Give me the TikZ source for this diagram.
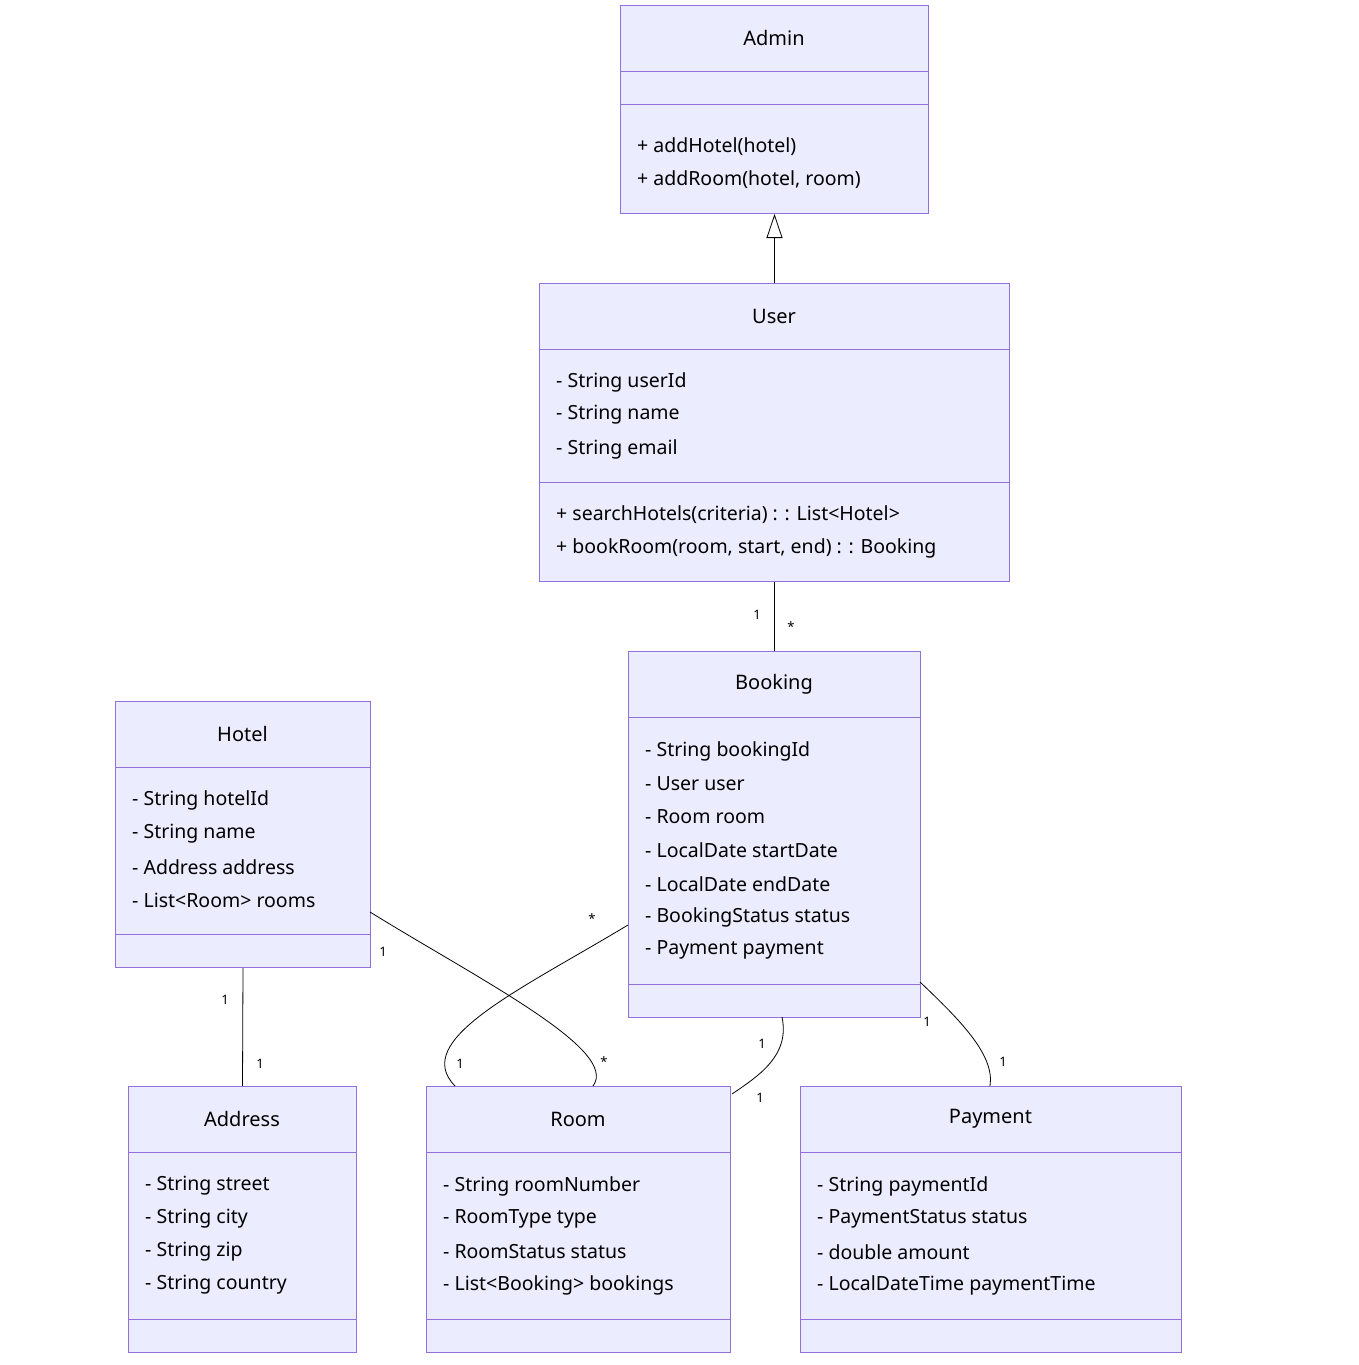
\documentclass[tikz,border=0pt]{standalone}
\usepackage{fontspec}
\setmainfont{Noto Sans}
\usetikzlibrary{arrows.meta}
\definecolor{cfill}{HTML}{ECECFF}
\definecolor{cline}{HTML}{9370DB}
\tikzset{
  box/.style={draw=cline,fill=cfill,line width=1pt,inner sep=0,anchor=north west},
  ttl/.style={font=\fontsize{20}{24}\selectfont\bfseries,inner sep=0},
  txt/.style={font=\fontsize{19.5}{24}\selectfont,anchor=west,inner sep=0},
  lbl/.style={font=\fontsize{13}{15}\selectfont,inner sep=0},
  rel/.style={draw=black,line width=0.8pt},
}
\newcommand{\umlbox}[8]{% name,x1,y1,x2,y2,d1,d2,title
  \node[box,minimum width=#4pt-#2pt,minimum height=#5pt-#3pt] (#1) at (#2,-#3) {};
  \draw[cline,line width=1pt] (#2,-#6)--(#4,-#6) (#2,-#7)--(#4,-#7);
  \node[ttl] (#1-t) at ({(#2+#4)/2},{-(#3+33)}) {#8};
}
\begin{document}
\begin{tikzpicture}[x=1pt,y=1pt]
\useasboundingbox[fill=white] (0,0) rectangle (1358,-1365);
\umlbox{admin}{620}{5}{928}{213}{71}{104}{Admin}
\node[txt] (a1) at (637,-147) {+ addHotel(hotel)};
\node[txt] (a2) at (637,-180) {+ addRoom(hotel, room)};
\umlbox{user}{539}{283}{1009}{581}{349}{482}{User}
\node[txt] (u1) at (556,-382) {- String userId};
\node[txt] (u2) at (556,-415) {- String name};
\node[txt] (u3) at (556,-449) {- String email};
\node[txt] (u4) at (556,-515) {+ searchHotels(criteria) : : List<Hotel>};
\node[txt] (u5) at (556,-548) {+ bookRoom(room, start, end) : : Booking};
\umlbox{booking}{628}{651}{920}{1017}{717}{984}{Booking}
\node[txt] (b1) at (645,-751) {- String bookingId};
\node[txt] (b2) at (645,-784) {- User user};
\node[txt] (b3) at (645,-817) {- Room room};
\node[txt] (b4) at (645,-850) {- LocalDate startDate};
\node[txt] (b5) at (645,-884) {- LocalDate endDate};
\node[txt] (b6) at (645,-917) {- BookingStatus status};
\node[txt] (b7) at (645,-950) {- Payment payment};
\umlbox{hotel}{115}{701}{370}{967}{767}{934}{Hotel}
\node[txt] (h1) at (132,-800) {- String hotelId};
\node[txt] (h2) at (132,-834) {- String name};
\node[txt] (h3) at (132,-867) {- Address address};
\node[txt] (h4) at (132,-900) {- List<Room> rooms};
\umlbox{address}{128}{1086}{356}{1352}{1152}{1319}{Address}
\node[txt] (ad1) at (145,-1186) {- String street};
\node[txt] (ad2) at (145,-1219) {- String city};
\node[txt] (ad3) at (145,-1252) {- String zip};
\node[txt] (ad4) at (145,-1285) {- String country};
\umlbox{room}{426}{1086}{730}{1352}{1152}{1319}{Room}
\node[txt] (r1) at (443,-1186) {- String roomNumber};
\node[txt] (r2) at (443,-1219) {- RoomType type};
\node[txt] (r3) at (443,-1252) {- RoomStatus status};
\node[txt] (r4) at (443,-1285) {- List<Booking> bookings};
\umlbox{payment}{800}{1086}{1181}{1352}{1152}{1319}{Payment}
\node[txt] (p1) at (817,-1186) {- String paymentId};
\node[txt] (p2) at (817,-1219) {- PaymentStatus status};
\node[txt] (p3) at (817,-1252) {- double amount};
\node[txt] (p4) at (817,-1285) {- LocalDateTime paymentTime};
% relations
\draw[rel,-{Triangle[open,width=16pt,length=24pt]}] (user.north) -- (admin.south);
\draw[rel] (user.south) -- (booking.north);
\node[lbl] (l1) at (757,-615) {1};
\node[lbl] (l2) at (791,-627) {*};
\draw[rel] (hotel.south) -- (address.north);
\node[lbl] (l3) at (225,-1000) {1};
\node[lbl] (l4) at (260,-1064) {1};
\coordinate (hr1) at (370,-912);
\coordinate (hr2) at (593,-1086);
\draw[rel] (hr1) .. controls (480,-980) and (620,-1050) .. (hr2);
\node[lbl] (l5) at (383,-952) {1};
\node[lbl] (l6) at (604,-1062) {*};
\coordinate (br1) at (628,-925);
\coordinate (br2) at (455,-1086);
\draw[rel] (br1) .. controls (520,-990) and (410,-1040) .. (br2);
\node[lbl] (l7) at (592,-919) {*};
\node[lbl] (l8) at (460,-1064) {1};
\coordinate (bb1) at (782,-1017);
\coordinate (bb2) at (732,-1094);
\draw[rel] (bb1) .. controls (790,-1055) and (760,-1075) .. (bb2);
\node[lbl] (l9) at (762,-1044) {1};
\node[lbl] (l10) at (760,-1098) {1};
\coordinate (bp1) at (920,-982);
\coordinate (bp2) at (990,-1086);
\draw[rel] (bp1) .. controls (960,-1020) and (995,-1055) .. (bp2);
\node[lbl] (l11) at (927,-1022) {1};
\node[lbl] (l12) at (1003,-1062) {1};
\end{tikzpicture}
\end{document}
